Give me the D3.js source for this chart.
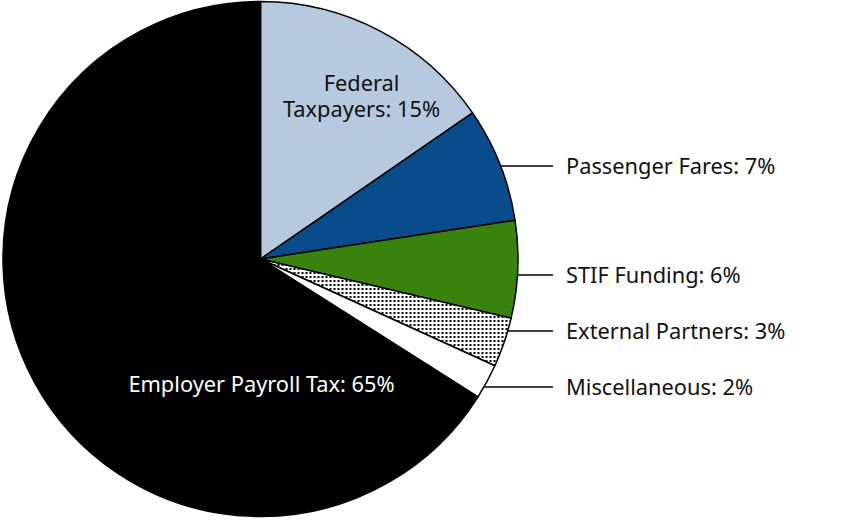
<!DOCTYPE html>
<html>
<head>
<meta charset="utf-8">
<script src="https://cdn.jsdelivr.net/npm/d3@7"></script>
<style>
  body { margin: 0; background: #fff; }
  svg text { font-family: "Noto Sans", "Open Sans", sans-serif; font-size: 21.8px; }
</style>
</head>
<body>
<div id="chart"></div>
<script>
var categories = ["Federal Taxpayers", "Passenger Fares", "STIF Funding", "External Partners", "Miscellaneous", "Employer Payroll Tax"];
var values = [15.4, 7.2, 6.1, 3.1, 2.2, 66.0];
var labels = ["15%", "7%", "6%", "3%", "2%", "65%"];
var colors = ["#b7c9df", "#0a4b8c", "#3a820e", "url(#dots)", "#ffffff", "#000000"];

var width = 862,
  height = 520,
  cx = 260.5,
  cy = 259,
  radius = 257.5;

var svg = d3.select("#chart").append("svg")
    .attr("width", width)
    .attr("height", height);

// dotted fill for external partners
var pat = svg.append("defs").append("pattern")
    .attr("id", "dots")
    .attr("patternUnits", "userSpaceOnUse")
    .attr("width", 4)
    .attr("height", 4);
pat.append("rect").attr("width", 4).attr("height", 4).attr("fill", "#fff");
pat.append("rect").attr("x", 1).attr("y", 1).attr("width", 2).attr("height", 2)
    .attr("fill", "#000").attr("shape-rendering", "crispEdges");

var data = categories.map(function(c, i) {
  return {name: c, value: values[i], label: labels[i], color: colors[i]};
});

var pie = d3.pie().sort(null).value(function(d) { return d.value; });
var arc = d3.arc().innerRadius(0).outerRadius(radius);
var arcs = pie(data);

var g = svg.append("g")
    .attr("transform", "translate(" + cx + "," + cy + ")");

g.selectAll(".slice")
  .data(arcs)
  .enter().append("path")
    .attr("class", "slice")
    .attr("d", arc)
    .attr("fill", function(d) { return d.data.color; })
    .attr("stroke", "#000")
    .attr("stroke-width", 1.5)
    .attr("stroke-linejoin", "round");

// inside labels
var fed = arcs[0];
g.append("text")
    .attr("text-anchor", "middle")
    .attr("fill", "#111")
    .selectAll("tspan")
    .data(["Federal", "Taxpayers: " + fed.data.label])
  .enter().append("tspan")
    .attr("x", 101)
    .attr("y", function(d, i) { return -168 + i * 26; })
    .text(function(d) { return d; });

var emp = arcs[5];
g.append("text")
    .attr("x", 1)
    .attr("y", 133)
    .attr("text-anchor", "middle")
    .attr("fill", "#fff")
    .text("Employer Payroll Tax: " + emp.data.label);

// callouts on the right
var calloutY = [166, 275, 331, 387];
var lineEnd = 553 - cx;
arcs.slice(1, 5).forEach(function(d, i) {
  var y = calloutY[i] - cy;
  var x0 = Math.sqrt(radius * radius - y * y);
  g.append("line")
      .attr("x1", x0)
      .attr("x2", lineEnd)
      .attr("y1", y)
      .attr("y2", y)
      .attr("stroke", "#000")
      .attr("stroke-width", 1.5);
  g.append("text")
      .attr("x", lineEnd + 13)
      .attr("y", y)
      .attr("dy", "0.35em")
      .attr("fill", "#111")
      .text(d.data.name + ": " + d.data.label);
});
</script>
</body>
</html>
